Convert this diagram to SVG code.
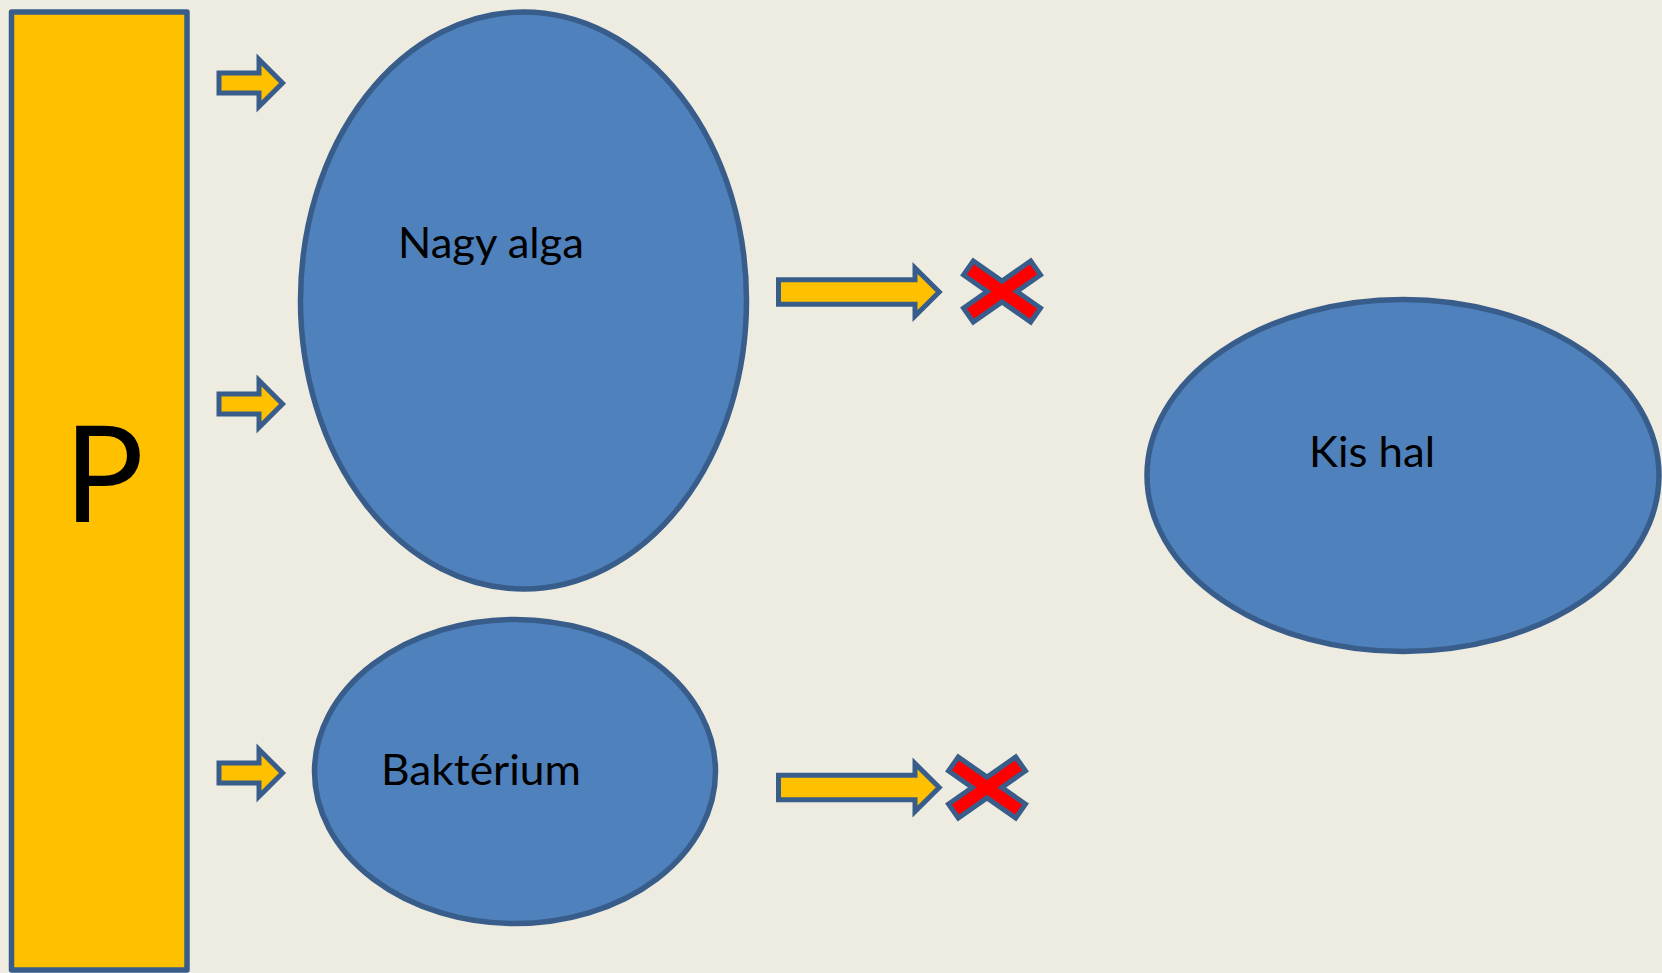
<svg xmlns="http://www.w3.org/2000/svg" width="1662" height="973" viewBox="0 0 1662 973">
  <style>
    .node { fill: #4F81BD; stroke: #385D8A; stroke-width: 5.5; }
    .bar { fill: #FFC000; stroke: #385D8A; stroke-width: 5.5; stroke-linejoin: round; }
    .arrow { fill: #FFC000; stroke: #385D8A; stroke-width: 5; stroke-linejoin: miter; }
    .cross { fill: #FF0000; stroke: #385D8A; stroke-width: 5; stroke-linejoin: miter; }
    .lbl { font-family: Lato, "Open Sans", "Liberation Sans", sans-serif; font-size: 42px; fill: #000000; }
  </style>
  <defs>
    <polygon id="smallArrow" points="-64,-10 -24,-10 -24,-23.5 -0.5,0 -24,23.5 -24,10 -64,10"/>
    <polygon id="longArrow" points="-160.7,-12.2 -24.2,-12.2 -24.2,-24 0,0 -24.2,24 -24.2,12.2 -160.7,12.2"/>
    <polygon id="xmark" points="-38.46,-16.57 -28.7,-30.49 0,-10.38 28.7,-30.49 38.46,-16.57 14.81,0 38.46,16.57 28.7,30.49 0,10.38 -28.7,30.49 -38.46,16.57 -14.81,0"/>
  </defs>
  <rect x="0" y="0" width="1662" height="973" fill="#EEECE1"/>

  <g id="node-P">
    <rect class="bar" x="11.5" y="12" width="175.5" height="958"/>
    <text x="64" y="522" style="font-family: Lato, 'Open Sans', 'Liberation Sans', sans-serif; font-size: 133px; fill:#000000;">P</text>
  </g>

  <g id="node-nagy-alga">
    <ellipse class="node" cx="523.5" cy="300.5" rx="223" ry="288.5"/>
    <text class="lbl" x="398" y="258" textLength="186" lengthAdjust="spacingAndGlyphs">Nagy alga</text>
  </g>

  <g id="node-bakterium">
    <ellipse class="node" cx="515" cy="771.5" rx="200.5" ry="152"/>
    <text class="lbl" x="381" y="785" textLength="200" lengthAdjust="spacingAndGlyphs">Baktérium</text>
  </g>

  <g id="node-kis-hal">
    <ellipse class="node" cx="1403" cy="475.5" rx="256" ry="176"/>
    <text class="lbl" x="1309" y="467" textLength="126" lengthAdjust="spacingAndGlyphs">Kis hal</text>
  </g>

  <g id="connectors">
    <use href="#smallArrow" class="arrow" transform="translate(283,83)"/>
    <use href="#smallArrow" class="arrow" transform="translate(283,404)"/>
    <use href="#smallArrow" class="arrow" transform="translate(283,773)"/>
    <use href="#longArrow" class="arrow" transform="translate(939.2,292)"/>
    <use href="#longArrow" class="arrow" transform="translate(939.2,787.5)"/>
    <use href="#xmark" class="cross" transform="translate(1002,291.5)"/>
    <use href="#xmark" class="cross" transform="translate(987,787.5)"/>
  </g>
</svg>
